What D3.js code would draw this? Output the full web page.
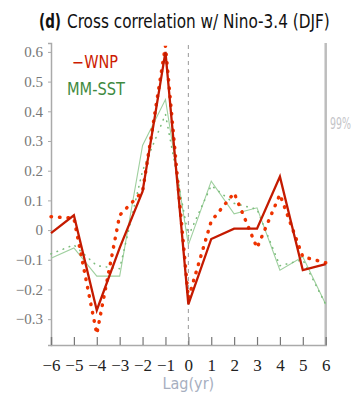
<!DOCTYPE html>
<html><head><meta charset="utf-8">
<script src="https://cdn.jsdelivr.net/npm/d3@7"></script>
<style>body{margin:0;background:#fff;}svg{display:block;}
.serif{font-family:"Liberation Serif","DejaVu Serif",serif;}
.cond{font-family:"DejaVu Sans Condensed","Liberation Sans","Open Sans",sans-serif;font-stretch:condensed;}
</style>
</head><body>
<svg id="c" width="354" height="397"></svg>
<script>
const lags = [-6,-5,-4,-3,-2,-1,0,1,2,3,4,5,6];
const wnpSolid = [-0.01,0.05,-0.27,-0.06,0.13,0.60,-0.25,-0.03,0.005,0.005,0.18,-0.135,-0.115];
const wnpDotted = [0.045,0.04,-0.35,0.05,0.13,0.62,-0.23,0.03,0.125,-0.06,0.12,-0.09,-0.11];
const sstSolid = [-0.095,-0.06,-0.155,-0.155,0.285,0.44,-0.05,0.165,0.055,0.075,-0.135,-0.09,-0.25];
const sstDotted = [-0.08,-0.05,-0.12,-0.13,0.20,0.39,-0.02,0.15,0.09,0.07,-0.12,-0.10,-0.25];
const yTicks = [-0.3,-0.2,-0.1,0,0.1,0.2,0.3,0.4,0.5,0.6];
const xTicks = lags;

const svg = d3.select("#c");
const x = d3.scaleLinear().domain([-6,6]).range([51,325.7]);
const y = d3.scaleLinear().domain([-0.387,0.63]).range([345,43]);

// text squeezed horizontally to a target width
function fitText(px, py, str, size, width, fill, bold) {
  const g = svg.append("g");
  const tx = g.append("text").attr("class","cond").attr("x",0).attr("y",0)
    .attr("font-size",size).attr("fill",fill).text(str);
  if (bold) tx.attr("font-weight","bold");
  const w = tx.node().getComputedTextLength();
  const s = w > 0 ? width / w : 1;
  g.attr("transform",`translate(${px},${py}) scale(${s},1)`);
  return g;
}

// title
fitText(39, 28, "(d)", 19, 22, "#111", true);
fitText(67, 28, "Cross correlation w/ Nino-3.4 (DJF)", 19, 263, "#111", false);

// right bar
svg.append("line").attr("x1",x(6)).attr("x2",x(6)).attr("y1",43).attr("y2",345)
  .attr("stroke","#bdbdbd").attr("stroke-width",2.5);
fitText(330, 129, "99%", 15, 21, "#c4c4c8", false);

// zero-lag dashed line
svg.append("line").attr("x1",x(0)).attr("x2",x(0)).attr("y1",45).attr("y2",345)
  .attr("stroke","#999").attr("stroke-width",1).attr("stroke-dasharray","4,4");

// axes
const yAxis = d3.axisLeft(y).tickValues(yTicks).tickSize(3).tickPadding(5)
  .tickFormat(d => d===0 ? "0" : d3.format(".1f")(d).replace("-","\u2212"));
const gy = svg.append("g").attr("transform","translate(51,0)").call(yAxis);
gy.attr("font-family",null);
gy.select(".domain").attr("stroke","#aaa").attr("stroke-width",1.5);
gy.selectAll(".tick line").attr("stroke","#aaa");
gy.selectAll("text").attr("class","serif").style("font-size","15px").attr("fill","#777");

const xAxis = d3.axisBottom(x).tickValues(xTicks).tickSize(-8).tickPadding(14)
  .tickFormat(d => String(d).replace("-","\u2212"));
const gx = svg.append("g").attr("transform","translate(0,345)").call(xAxis);
gx.attr("font-family",null);
gx.select(".domain").attr("stroke","#aaa").attr("stroke-width",1.5);
gx.selectAll(".tick line").attr("stroke","#777").attr("stroke-width",1.2);
gx.selectAll("text").attr("class","serif").style("font-size","17px").attr("fill","#222");

svg.append("text").attr("class","cond").attr("x",x(0)).attr("y",389).attr("text-anchor","middle")
  .attr("font-size",16).attr("fill","#a7afbf").text("Lag(yr)");

const line = d3.line().x((d,i)=>x(lags[i])).y(d=>y(d));

svg.append("path").attr("d",line(sstSolid)).attr("fill","none").attr("stroke","#9fd09f").attr("stroke-width",1.1);
svg.append("path").attr("d",line(sstDotted)).attr("fill","none").attr("stroke","#7cbc7c").attr("stroke-width",1.6)
  .attr("stroke-dasharray","0.5,6").attr("stroke-linecap","round");
svg.append("path").attr("d",line(wnpDotted)).attr("fill","none").attr("stroke","#ee3300").attr("stroke-width",3.5)
  .attr("stroke-dasharray","0.5,8").attr("stroke-linecap","round");
svg.append("path").attr("d",line(wnpSolid)).attr("fill","none").attr("stroke","#c41a00").attr("stroke-width",2.3);

// legend
fitText(72, 68, "\u2212WNP", 17, 46, "#cc1a00", false);
fitText(67, 95, "MM-SST", 17, 58, "#3f8a3f", false);
</script>
</body></html>
